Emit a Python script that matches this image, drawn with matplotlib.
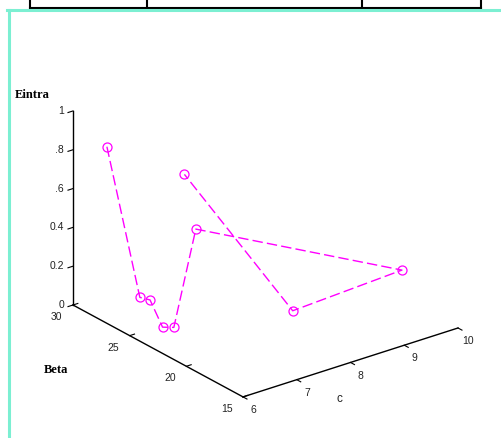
import matplotlib
matplotlib.use('Agg')
import matplotlib.pyplot as plt
from matplotlib.lines import Line2D
from mpl_toolkits.mplot3d import proj3d
import numpy as np

W, H = 502, 438

# data (c, Beta, Eintra)
c_vals = [6.42, 6.40, 6.59, 6.19, 6.40, 7.02, 9.59, 8.19, 7.44]
beta_vals = [29, 26, 26, 23, 23, 24, 18, 21, 27]
eintra_vals = [0.81, 0.13, 0.10, 0.09, 0.07, 0.49, 0.24, 0.06, 0.64]

c_ticks = [6, 7, 8, 9, 10]
beta_ticks = [15, 20, 25, 30]
z_ticks = [0, 0.2, 0.4, 0.6, 0.8, 1]
z_ticklabels = ['0', '0.2', '0.4', '.6', '.8', '1']

fig = plt.figure(figsize=(W / 100, H / 100), dpi=100)
ax = fig.add_axes([0.05, 0.05, 0.9, 0.9], projection='3d')
ax.set_proj_type('ortho')
ax.view_init(elev=24.6, azim=-127.6)
ax.set_box_aspect((271.3, 278.6, 213.4))
ax.set_xlim(6, 10)
ax.set_ylim(15, 30)
ax.set_zlim(0, 1)
# own axis lines are drawn below, hide the built-in ones
ax.set_xticks([])
ax.set_yticks([])
ax.set_zticks([])
ax.set_axis_off()

cmin, cmax = ax.get_xlim()
bmin, bmax = ax.get_ylim()
zmin, zmax = ax.get_zlim()


def px(pt):
    x2, y2, _ = proj3d.proj_transform(pt[0], pt[1], pt[2], ax.M)
    return ax.transData.transform((x2, y2))


# fit axes so the box corners land where they are in the reference
tA = np.array([73.0, H - 305.0])
tC = np.array([458.0, H - 328.0])
for _ in range(4):
    fig.canvas.draw()
    a = px((cmin, bmax, zmin))
    c = px((cmax, bmin, zmin))
    k = np.linalg.norm(tC - tA) / np.linalg.norm(c - a)
    pos = ax.get_position(original=True)
    fx, fy = a[0] / W, a[1] / H
    l2 = fx + (pos.x0 - fx) * k + (tA[0] - a[0]) / W
    b2 = fy + (pos.y0 - fy) * k + (tA[1] - a[1]) / H
    ax.set_position([l2, b2, pos.width * k, pos.height * k])
fig.canvas.draw()


def label3d(pt, s, **kw):
    # put a flat label at the projected spot of a 3D point
    p = px(pt)
    fig.text(p[0] / W, p[1] / H, s, **kw)


# axis lines
ax.plot([cmin, cmin], [bmax, bmax], [zmin, zmax], color='black', lw=1)
ax.plot([cmin, cmin], [bmax, bmin], [zmin, zmin], color='black', lw=1)
ax.plot([cmin, cmax], [bmin, bmin], [zmin, zmin], color='black', lw=1)

tick_font = dict(family='Liberation Sans', size=7.5, color='#222222')
for z, lab in zip(z_ticks, z_ticklabels):
    ax.plot([cmin, cmin - 0.093], [bmax, bmax], [z, z], color='black', lw=0.8)
    label3d((cmin - 0.167, bmax, z + 0.015), lab, ha='right', va='center', **tick_font)
for bt in beta_ticks:
    ax.plot([cmin, cmin + 0.09], [bt, bt], [zmin, zmin], color='black', lw=0.8)
    label3d((cmin - 0.3, bt, zmin - 0.035), str(bt), ha='center', va='center', **tick_font)
for ct in c_ticks:
    ax.plot([ct, ct], [bmin, bmin - 0.35], [zmin, zmin], color='black', lw=0.8)
    label3d((ct, bmin - 0.9, zmin - 0.04), str(ct), ha='center', va='center', **tick_font)

# data
ax.plot(c_vals, beta_vals, eintra_vals, color='#FF00FF', lw=1, dashes=(7.5, 3),
        marker='o', ms=6.5, mfc='none', mec='#FF00FF', mew=0.9)

# axis titles
fig.text(15 / W, 1 - 94.5 / H, 'Eintra', family='Liberation Serif', weight='bold',
         size=9, ha='left', va='center')
fig.text(44 / W, 1 - 370 / H, 'Beta', family='Liberation Serif', weight='bold',
         size=9, ha='left', va='center')
label3d((7.8, bmin, zmin - 0.17), 'c', family='Liberation Sans', size=8.5,
        ha='center', va='center', color='#222222')

# page decoration: table edge and mint frame
def fl(xs, ys, **kw):
    fig.add_artist(Line2D([x / W for x in xs], [1 - y / H for y in ys],
                          transform=fig.transFigure, **kw))

fl([30, 481], [8, 8], color='black', lw=1.5)
for x in [30.2, 147.3, 362.5, 480.8]:
    fl([x, x], [0, 8], color='black', lw=1.5)
fl([7.5, W], [10.3, 10.3], color='#7CEFD2', lw=2.2)
fl([8.7, 8.7], [9.5, H], color='#7CEFD2', lw=2.2)

fig.savefig('out.png', dpi=100)
